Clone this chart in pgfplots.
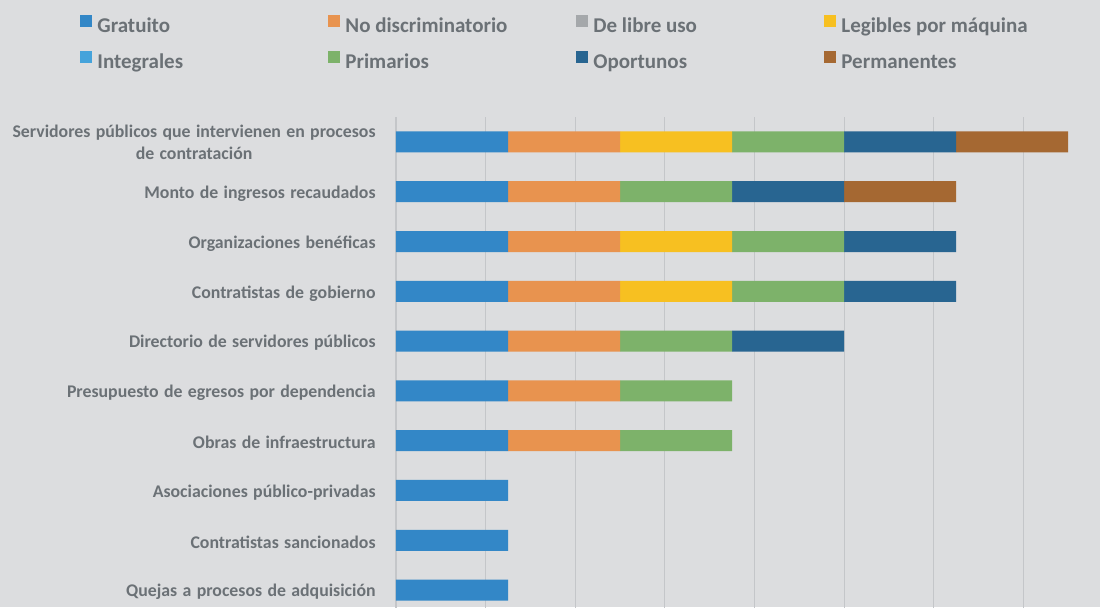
\documentclass[border=0pt]{standalone}
\usepackage{pgfplots}
\pgfplotsset{compat=1.18}
\usepackage{fontspec}
\setmainfont{Carlito}
\definecolor{bg}{HTML}{DCDDDF}
\definecolor{txt}{HTML}{6B7176}
\definecolor{gridc}{HTML}{C4C6C9}
\definecolor{cGrat}{HTML}{3387C7}
\definecolor{cND}{HTML}{E8934F}
\definecolor{cLib}{HTML}{A5A8AB}
\definecolor{cLeg}{HTML}{F7C021}
\definecolor{cInt}{HTML}{45A3DB}
\definecolor{cPri}{HTML}{7DB26A}
\definecolor{cOpo}{HTML}{286591}
\definecolor{cPer}{HTML}{A56832}
\newcommand\ylfont{\bfseries\fontsize{8.9}{11}\selectfont\spaceskip=0.3em\relax}
\begin{document}
\begin{tikzpicture}
\path[use as bounding box, fill=bg] (0,0) rectangle (550pt,303.5pt);
\begin{axis}[
  at={(198pt,245pt)}, anchor=north west,
  scale only axis, width=358.5pt, height=249pt,
  xbar stacked, bar width=10.5pt,
  xmin=0, xmax=6.4, ymin=-0.5, ymax=9.5, y dir=reverse,
  ytick={0,...,9},
  yticklabels={{\begin{tabular}{@{}c@{}}Servidores públicos que intervienen en procesos\\de contratación\end{tabular}},
    Monto de ingresos recaudados, Organizaciones benéficas, Contratistas de gobierno,
    Directorio de servidores públicos, Presupuesto de egresos por dependencia,
    Obras de infraestructura, Asociaciones público-privadas, Contratistas sancionados,
    Quejas a procesos de adquisición},
  xtick={0,0.8,1.6,2.4,3.2,4.0,4.8,5.6,6.4}, xticklabels={},
  xmajorgrids, major grid style={gridc, line width=0.6pt},
  axis line style={draw=none}, major tick length=0pt,
  yticklabel style={font=\ylfont, text=txt, inner sep=0pt, xshift=-10pt, yshift=-1pt},
  every axis plot/.append style={draw=none},
  legend image code/.code={\fill[#1] (0pt,0.3pt) rectangle (6pt,6.3pt);},
  legend style={draw=none, fill=none, legend columns=4,
    at={(-0.4407,1.205)}, anchor=north west,
    font=\bfseries\fontsize{10.5}{12}\selectfont, text=txt, inner sep=0pt,
    nodes={inner sep=0pt, text height=7.5pt, text depth=2.5pt},
    /tikz/every odd column/.append style={column sep=2.5pt},
    /tikz/every even column/.append style={column sep=0pt},
    row sep=6.5pt},
]
\addplot[fill=cGrat] coordinates {(1,0) (1,1) (1,2) (1,3) (1,4) (1,5) (1,6) (1,7) (1,8) (1,9)};
\addlegendentry{\makebox[115.5pt][l]{Gratuito}}
\addplot[fill=cND] coordinates {(1,0) (1,1) (1,2) (1,3) (1,4) (1,5) (1,6) (0,7) (0,8) (0,9)};
\addlegendentry{\makebox[115.5pt][l]{No discriminatorio}}
\addplot[fill=cLib] coordinates {(0,0) (0,1) (0,2) (0,3) (0,4) (0,5) (0,6) (0,7) (0,8) (0,9)};
\addlegendentry{\makebox[115.5pt][l]{De libre uso}}
\addplot[fill=cLeg] coordinates {(1,0) (0,1) (1,2) (1,3) (0,4) (0,5) (0,6) (0,7) (0,8) (0,9)};
\addlegendentry{\makebox[115.5pt][l]{Legibles por máquina}}
\addplot[fill=cInt] coordinates {(0,0) (0,1) (0,2) (0,3) (0,4) (0,5) (0,6) (0,7) (0,8) (0,9)};
\addlegendentry{\makebox[115.5pt][l]{Integrales}}
\addplot[fill=cPri] coordinates {(1,0) (1,1) (1,2) (1,3) (1,4) (1,5) (1,6) (0,7) (0,8) (0,9)};
\addlegendentry{\makebox[115.5pt][l]{Primarios}}
\addplot[fill=cOpo] coordinates {(1,0) (1,1) (1,2) (1,3) (1,4) (0,5) (0,6) (0,7) (0,8) (0,9)};
\addlegendentry{\makebox[115.5pt][l]{Oportunos}}
\addplot[fill=cPer] coordinates {(1,0) (1,1) (0,2) (0,3) (0,4) (0,5) (0,6) (0,7) (0,8) (0,9)};
\addlegendentry{\makebox[115.5pt][l]{Permanentes}}
\end{axis}
\end{tikzpicture}
\end{document}
